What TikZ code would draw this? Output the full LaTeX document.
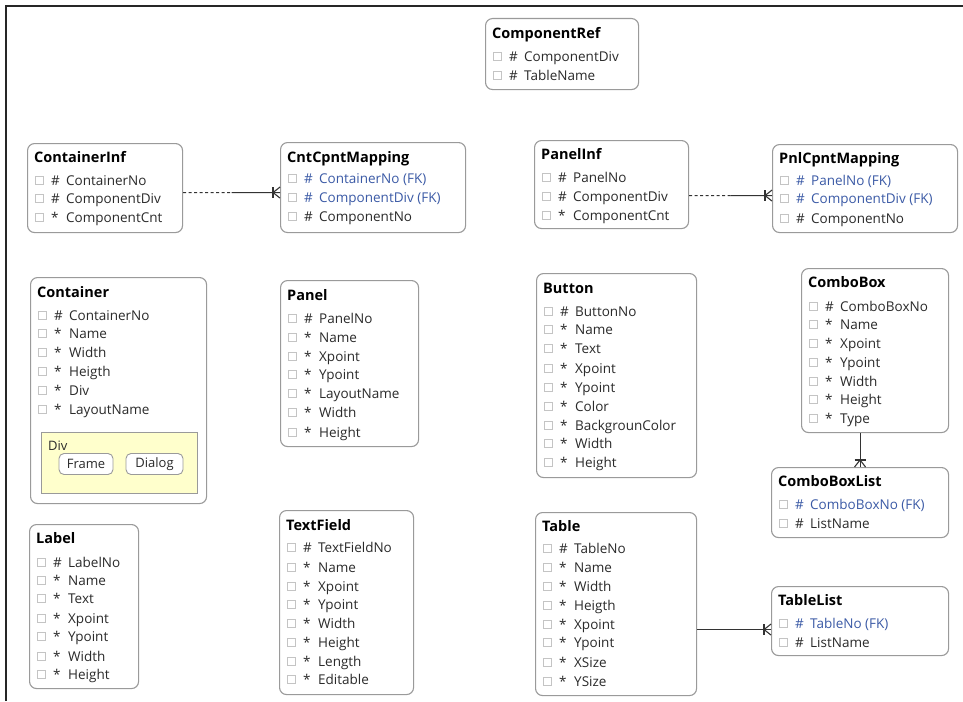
\documentclass[tikz,border=0pt]{standalone}
\usepackage{fontspec}
\setmainfont{Open Sans}
\usetikzlibrary{calc}
\definecolor{bordergray}{HTML}{9A9A9A}
\definecolor{chkgray}{HTML}{C4C4C4}
\definecolor{txt}{HTML}{2A2A2A}
\definecolor{fkblue}{HTML}{3B5AA6}
\definecolor{divyellow}{HTML}{FFFFCC}
\definecolor{linegray}{HTML}{333333}
\tikzset{x=1pt,y=-1pt,
 ebox/.style={draw=bordergray, line width=1.1pt, rounded corners=7pt, fill=white, inner sep=0pt, anchor=north west},
 etitle/.style={anchor=base west, inner sep=0pt, font=\fontsize{14.5}{16}\selectfont\bfseries, text=black},
 chk/.style={draw=chkgray, line width=0.7pt, minimum size=8pt, inner sep=0pt, fill=white},
 fsym/.style={anchor=base west, inner sep=0pt, font=\fontsize{13.5}{15}\selectfont},
 ftext/.style={anchor=base west, inner sep=0pt, font=\fontsize{13.5}{15}\selectfont},
 conn/.style={draw=linegray, line width=1.1pt},
 dashconn/.style={conn, dash pattern=on 3pt off 2.5pt},
 btn/.style={draw=bordergray, line width=0.9pt, rounded corners=5pt, fill=white, inner sep=0pt, font=\fontsize{13}{15}\selectfont, text=txt}
}
\newcounter{fc}
\newcommand\ent[7]{%
 \pgfmathsetmacro\ew{#4-#2}\pgfmathsetmacro\eh{#5-#3}%
 \node[ebox, minimum width=\ew pt, minimum height=\eh pt] (#1) at (#2,#3) {};%
 \node[etitle] (#1t) at ({#2+7},{#6+5}) {#7};}
\newcommand\fld[5]{\stepcounter{fc}%
 \node[chk] (c\arabic{fc}) at ({#1+12},{#2}) {};%
 \node[fsym, text=#5] (s\arabic{fc}) at ({#1+24},{#2+5}) {#3};%
 \node[ftext, text=#5] (t\arabic{fc}) at ({#1+39},{#2+5}) {#4};}
\begin{document}
\begin{tikzpicture}
\useasboundingbox (0,0) rectangle (963,701);
\fill[white] (0,0) rectangle (963,701);
\draw[line width=2pt, black!85] (6,701) -- (6,6) -- (963,6);

% ComponentRef
\ent{cr}{485}{18}{638}{89}{33}{ComponentRef}
\fld{485}{56}{\#}{ComponentDiv}{txt}
\fld{485}{75}{\#}{TableName}{txt}

% ContainerInf
\ent{ci}{27}{143}{182}{232}{157}{ContainerInf}
\fld{27}{180}{\#}{ContainerNo}{txt}
\fld{27}{198}{\#}{ComponentDiv}{txt}
\fld{27}{217}{*}{ComponentCnt}{txt}

% CntCpntMapping
\ent{cc}{280}{142}{465}{232}{157}{CntCpntMapping}
\fld{280}{178}{\#}{ContainerNo (FK)}{fkblue}
\fld{280}{197}{\#}{ComponentDiv (FK)}{fkblue}
\fld{280}{216}{\#}{ComponentNo}{txt}

% PanelInf
\ent{pi}{534}{140}{688}{228}{154}{PanelInf}
\fld{534}{177}{\#}{PanelNo}{txt}
\fld{534}{196}{\#}{ComponentDiv}{txt}
\fld{534}{215}{*}{ComponentCnt}{txt}

% PnlCpntMapping
\ent{pc}{772}{144}{957}{232}{158}{PnlCpntMapping}
\fld{772}{180}{\#}{PanelNo (FK)}{fkblue}
\fld{772}{198}{\#}{ComponentDiv (FK)}{fkblue}
\fld{772}{218}{\#}{ComponentNo}{txt}

% Container
\ent{co}{30}{277}{206}{503}{292}{Container}
\fld{30}{315}{\#}{ContainerNo}{txt}
\fld{30}{333}{*}{Name}{txt}
\fld{30}{352}{*}{Width}{txt}
\fld{30}{371}{*}{Heigth}{txt}
\fld{30}{390}{*}{Div}{txt}
\fld{30}{409}{*}{LayoutName}{txt}
\node[draw=bordergray, line width=0.9pt, fill=divyellow, anchor=north west, inner sep=0pt, minimum width=156pt, minimum height=61pt] (divbox) at (41,432) {};
\node[ftext, text=txt, font=\fontsize{13}{15}\selectfont] (divlbl) at (48,450) {Div};
\node[btn, minimum width=54pt, minimum height=21pt] (frm) at (86,464) {Frame};
\node[btn, minimum width=57pt, minimum height=21pt] (dlg) at (154.5,464) {Dialog};

% Panel
\ent{pa}{280}{280}{418}{446}{295}{Panel}
\fld{280}{318}{\#}{PanelNo}{txt}
\fld{280}{337}{*}{Name}{txt}
\fld{280}{356}{*}{Xpoint}{txt}
\fld{280}{374}{*}{Ypoint}{txt}
\fld{280}{393}{*}{LayoutName}{txt}
\fld{280}{412}{*}{Width}{txt}
\fld{280}{432}{*}{Height}{txt}

% Button
\ent{bu}{536}{273}{696}{477}{288}{Button}
\fld{536}{311}{\#}{ButtonNo}{txt}
\fld{536}{329}{*}{Name}{txt}
\fld{536}{348}{*}{Text}{txt}
\fld{536}{368}{*}{Xpoint}{txt}
\fld{536}{387}{*}{Ypoint}{txt}
\fld{536}{406}{*}{Color}{txt}
\fld{536}{425}{*}{BackgrounColor}{txt}
\fld{536}{443}{*}{Width}{txt}
\fld{536}{462}{*}{Height}{txt}

% ComboBox
\ent{cb}{801}{268}{948}{432}{282}{ComboBox}
\fld{801}{306}{\#}{ComboBoxNo}{txt}
\fld{801}{324}{*}{Name}{txt}
\fld{801}{343}{*}{Xpoint}{txt}
\fld{801}{362}{*}{Ypoint}{txt}
\fld{801}{381}{*}{Width}{txt}
\fld{801}{399}{*}{Height}{txt}
\fld{801}{418}{*}{Type}{txt}

% ComboBoxList
\ent{cl}{771}{467}{948}{537}{481}{ComboBoxList}
\fld{771}{504}{\#}{ComboBoxNo (FK)}{fkblue}
\fld{771}{523}{\#}{ListName}{txt}

% Label
\ent{la}{29}{524}{138}{688}{538}{Label}
\fld{29}{562}{\#}{LabelNo}{txt}
\fld{29}{580}{*}{Name}{txt}
\fld{29}{598}{*}{Text}{txt}
\fld{29}{618}{*}{Xpoint}{txt}
\fld{29}{636}{*}{Ypoint}{txt}
\fld{29}{656}{*}{Width}{txt}
\fld{29}{674}{*}{Height}{txt}

% TextField
\ent{tf}{279}{510}{413}{694}{525}{TextField}
\fld{279}{547}{\#}{TextFieldNo}{txt}
\fld{279}{567}{*}{Name}{txt}
\fld{279}{586}{*}{Xpoint}{txt}
\fld{279}{604}{*}{Ypoint}{txt}
\fld{279}{623}{*}{Width}{txt}
\fld{279}{642}{*}{Height}{txt}
\fld{279}{661}{*}{Length}{txt}
\fld{279}{679}{*}{Editable}{txt}

% Table
\ent{ta}{535}{512}{696}{695}{526}{Table}
\fld{535}{548}{\#}{TableNo}{txt}
\fld{535}{567}{*}{Name}{txt}
\fld{535}{586}{*}{Width}{txt}
\fld{535}{605}{*}{Heigth}{txt}
\fld{535}{624}{*}{Xpoint}{txt}
\fld{535}{642}{*}{Ypoint}{txt}
\fld{535}{662}{*}{XSize}{txt}
\fld{535}{681}{*}{YSize}{txt}

% TableList
\ent{tl}{771}{586}{948}{655}{600}{TableList}
\fld{771}{623}{\#}{TableNo (FK)}{fkblue}
\fld{771}{642}{\#}{ListName}{txt}

% Connectors
% ContainerInf -- CntCpntMapping
\coordinate (a2) at ([yshift=-5pt]cc.west);
\coordinate (a1) at (ci.east |- a2);
\coordinate (am) at ($(a1)!0.5!(a2)$);
\draw[dashconn] (a1) -- (am);
\draw[conn] (am) -- (a2);
\draw[conn] ([xshift=-7pt,yshift=5.5pt]a2) -- ([xshift=-7pt,yshift=-5.5pt]a2);
\draw[conn] ([yshift=5.5pt]a2) -- ([xshift=-7pt]a2) -- ([yshift=-5.5pt]a2);

% PanelInf -- PnlCpntMapping
\coordinate (p2) at ([yshift=-7pt]pc.west);
\coordinate (p1) at (pi.east |- p2);
\coordinate (pm) at ($(p1)!0.5!(p2)$);
\draw[dashconn] (p1) -- (pm);
\draw[conn] (pm) -- (p2);
\draw[conn] ([xshift=-7pt,yshift=5.5pt]p2) -- ([xshift=-7pt,yshift=-5.5pt]p2);
\draw[conn] ([yshift=5.5pt]p2) -- ([xshift=-7pt]p2) -- ([yshift=-5.5pt]p2);

% ComboBox -- ComboBoxList
\coordinate (b2) at (cl.north);
\coordinate (b1) at (cb.south -| b2);
\draw[conn] (b1) -- (b2);
\draw[conn] ([xshift=-5.5pt,yshift=7pt]b2) -- ([xshift=5.5pt,yshift=7pt]b2);
\draw[conn] ([xshift=-5.5pt]b2) -- ([yshift=7pt]b2) -- ([xshift=5.5pt]b2);

% Table -- TableList
\coordinate (q2) at ([yshift=-8.5pt]tl.west);
\coordinate (q1) at (ta.east |- q2);
\draw[conn] (q1) -- (q2);
\draw[conn] ([xshift=-7pt,yshift=5.5pt]q2) -- ([xshift=-7pt,yshift=-5.5pt]q2);
\draw[conn] ([yshift=5.5pt]q2) -- ([xshift=-7pt]q2) -- ([yshift=-5.5pt]q2);
\end{tikzpicture}
\end{document}
